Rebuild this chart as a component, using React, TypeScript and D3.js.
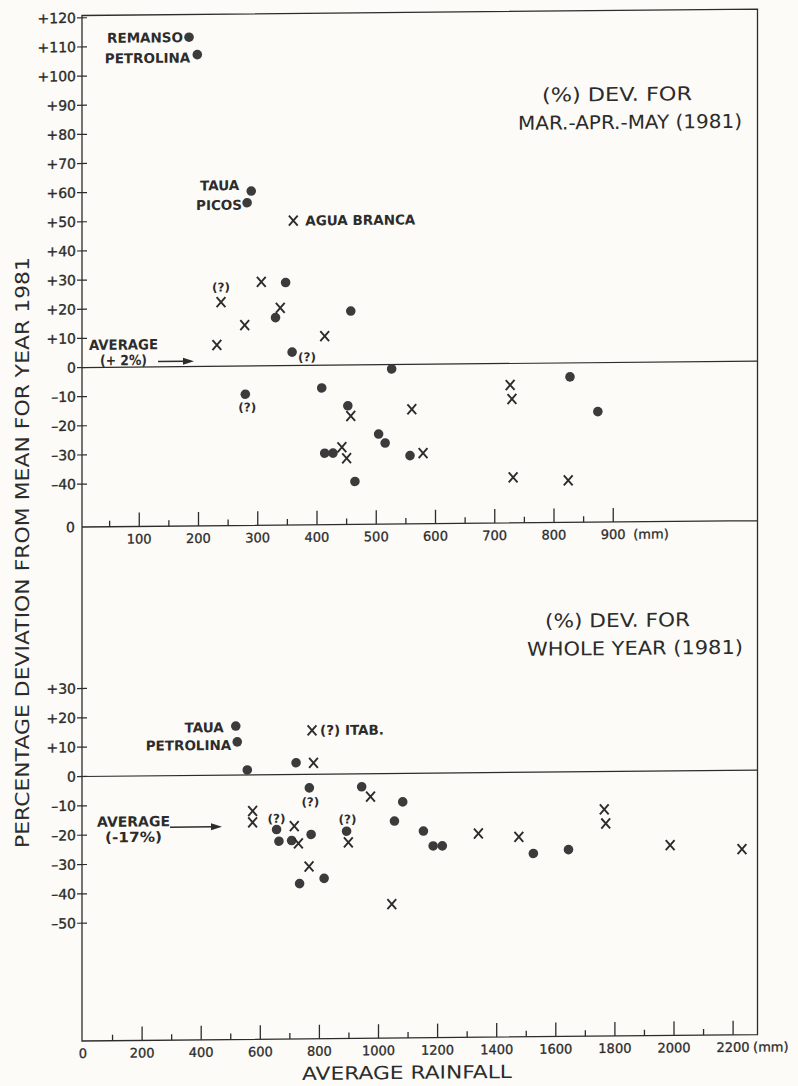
import React, { useEffect, useRef } from 'react'
import * as d3 from 'd3'

// top panel: (%) deviation for Mar-Apr-May 1981, against average rainfall (mm)
const mamDotRain = [184, 198, 289, 282, 347, 330, 358, 457, 526, 279, 408, 452, 504, 515, 413, 427, 557, 464, 827, 874]
const mamDotDev = [113, 107, 60, 56, 28.5, 16.5, 4.6, 18.5, -1.5, -9.7, -7.8, -14, -23.8, -26.9, -30.2, -30.2, -31.3, -40, -4.8, -16.8]
const mamCrossRain = [360, 238, 306, 338, 278, 231, 413, 457, 560, 442, 450, 579, 726, 729, 731, 824]
const mamCrossDev = [49.7, 22, 28.8, 19.8, 14, 7.3, 10, -17.5, -15.4, -28.2, -32, -30.5, -7.4, -12.2, -39.1, -40.3]
const mamAverage = 2

// bottom panel: (%) deviation for the whole year 1981
const yearDotRain = [517, 522, 556, 721, 766, 943, 1082, 655, 772, 663, 706, 892, 1054, 1152, 1185, 1216, 733, 816, 1524, 1643]
const yearDotDev = [16.7, 11.3, 1.7, 4, -4.6, -4.4, -9.7, -18.7, -20.5, -22.7, -22.5, -19.5, -16.2, -19.7, -24.8, -24.8, -37.2, -35.5, -27.7, -26.5]
const yearCrossRain = [775, 780, 973, 574, 574, 715, 729, 898, 765, 1045, 1338, 1475, 1764, 1769, 1987, 2230]
const yearCrossDev = [15, 3.9, -7.8, -12.3, -16.2, -17.6, -23.5, -23.3, -31.4, -44.5, -20.7, -22, -12.9, -17.7, -25.3, -26.9]
const yearAverage = -17

// axis ticks
const mamYTicks = [120, 110, 100, 90, 80, 70, 60, 50, 40, 30, 20, 10, 0, -10, -20, -30, -40]
const yearYTicks = [30, 20, 10, 0, -10, -20, -30, -40, -50]
const mamXLabels = [100, 200, 300, 400, 500, 600, 700, 800, 900]
const yearXLabels = [0, 200, 400, 600, 800, 1000, 1200, 1400, 1600, 1800, 2000, 2200]

// station names and doubtful values, pointing at a mark: [text, kind, index]
const mamNotes: [string, string, number][] = [
  ['REMANSO', 'dot', 0], ['PETROLINA', 'dot', 1], ['TAUA', 'dot', 2], ['PICOS', 'dot', 3],
  ['AGUA BRANCA', 'cross', 0], ['(?)', 'cross', 1], ['(?)', 'dot', 6], ['(?)', 'dot', 9],
]
const yearNotes: [string, string, number][] = [
  ['TAUA', 'dot', 0], ['PETROLINA', 'dot', 1], ['(?) ITAB.', 'cross', 0],
  ['(?)', 'dot', 7], ['(?)', 'dot', 4], ['(?)', 'dot', 11],
]
// where each note sits relative to its mark
const mamNoteStyle = [
  { dx: -6, dy: 0, anchor: 'end' }, { dx: -7, dy: 3, anchor: 'end' }, { dx: -12, dy: -6, anchor: 'end' },
  { dx: -5, dy: 2, anchor: 'end' }, { dx: 12, dy: 0, anchor: 'start' }, { dx: 0, dy: -15, anchor: 'middle' },
  { dx: 6, dy: 5, anchor: 'start' }, { dx: 2, dy: 13, anchor: 'middle' },
]
const yearNoteStyle = [
  { dx: -12, dy: 1, anchor: 'end' }, { dx: -6, dy: 3, anchor: 'end' }, { dx: 8, dy: 0, anchor: 'start' },
  { dx: 0, dy: -11, anchor: 'middle' }, { dx: 1, dy: 14, anchor: 'middle' }, { dx: 1, dy: -12, anchor: 'middle' },
]

const W = 798, H = 1086
const LEFT = 82, RIGHT = 757.5, TOP = 15.5, MID = 527, BOTTOM = 1041
const TILT = 0.0095
const ink = '#2c2c2c'
const paper = '#fcfbf7'
const font = '"DejaVu Sans", "Liberation Sans", sans-serif'

const fmt = (v: number) => (v > 0 ? `+${v}` : v < 0 ? `–${-v}` : '0')

function drawPanel(root: any, p: any) {
  const g = root.append('g')

  // zero line
  g.append('line')
    .attr('x1', LEFT).attr('x2', RIGHT)
    .attr('y1', p.y(0)).attr('y2', p.y(0))
    .attr('stroke', ink).attr('stroke-width', 1.2)

  // y ticks
  const yt = g.append('g')
  yt.selectAll('line').data(p.yTicks).join('line')
    .attr('x1', LEFT - 5).attr('x2', LEFT + 5)
    .attr('y1', (d: number) => p.y(d)).attr('y2', (d: number) => p.y(d))
    .attr('stroke', ink).attr('stroke-width', 1.2)
  yt.selectAll('text').data(p.yTicks).join('text')
    .attr('x', LEFT - 6).attr('y', (d: number) => p.y(d)).attr('dy', '0.36em')
    .attr('text-anchor', 'end').attr('font-size', 14)
    .attr('stroke', ink).attr('stroke-width', 0.35)
    .text((d: number) => fmt(d))

  // x ticks, pointing up into the panel
  const xt = g.append('g')
  xt.selectAll('line').data(d3.range(p.step, p.last + 1, p.step)).join('line')
    .attr('x1', (d: number) => p.x(d)).attr('x2', (d: number) => p.x(d))
    .attr('y1', p.axisY)
    .attr('y2', (d: number) => p.axisY - (d % (p.step * 2) === 0 ? 14 : 6))
    .attr('stroke', ink).attr('stroke-width', 1.3)
  xt.selectAll('text').data(p.xLabels).join('text')
    .attr('x', (d: number) => p.x(d)).attr('y', p.axisY + 17)
    .attr('text-anchor', 'middle').attr('font-size', 13)
    .attr('stroke', ink).attr('stroke-width', 0.3)
    .text((d: number) => d)
  g.append('text')
    .attr('x', p.x(p.last) + 20).attr('y', p.axisY + 17)
    .attr('font-size', 13).attr('stroke', ink).attr('stroke-width', 0.3).text('(mm)')

  // marks
  g.append('g').selectAll('circle').data(p.dotRain).join('circle')
    .attr('cx', (d: number) => p.x(d))
    .attr('cy', (_: number, i: number) => p.y(p.dotDev[i]))
    .attr('r', 4.8).attr('fill', '#3b3b3b')
  g.append('g').selectAll('path').data(p.crossRain).join('path')
    .attr('d', (d: number, i: number) => {
      const cx = p.x(d), cy = p.y(p.crossDev[i])
      return `M${cx - 4.4},${cy - 5}L${cx + 4.4},${cy + 5}M${cx + 4.4},${cy - 5}L${cx - 4.4},${cy + 5}`
    })
    .attr('stroke', ink).attr('stroke-width', 1.9).attr('fill', 'none')

  // notes
  g.append('g').selectAll('text').data(p.notes).join('text')
    .attr('x', (d: any, i: number) => {
      const rain = d[1] === 'dot' ? p.dotRain : p.crossRain
      return p.x(rain[d[2]]) + p.noteStyle[i].dx
    })
    .attr('y', (d: any, i: number) => {
      const dev = d[1] === 'dot' ? p.dotDev : p.crossDev
      return p.y(dev[d[2]]) + p.noteStyle[i].dy
    })
    .attr('dy', '0.36em')
    .attr('text-anchor', (_: any, i: number) => p.noteStyle[i].anchor)
    .attr('font-size', (d: any) => (d[0] === '(?)' ? 12 : 13.5))
    .attr('font-weight', 'bold')
    .text((d: any) => d[0])
}

function drawAverage(root: any, lines: string[], x: number, y0: number, arrowY: number, x1: number, x2: number, widths: number[]) {
  const g = root.append('g').attr('font-size', 14).attr('font-weight', 'bold')
  lines.forEach((t, i) => {
    g.append('text').attr('x', x + (i === 0 ? 0 : (widths[0] - widths[1]) / 2)).attr('y', y0 + i * 15.5)
      .attr('textLength', widths[i]).attr('lengthAdjust', 'spacingAndGlyphs').text(t)
  })
  g.append('line').attr('x1', x1).attr('x2', x2 - 9).attr('y1', arrowY).attr('y2', arrowY)
    .attr('stroke', ink).attr('stroke-width', 1.5)
  g.append('path').attr('d', `M${x2},${arrowY}L${x2 - 11},${arrowY - 3.5}L${x2 - 11},${arrowY + 3.5}Z`).attr('fill', ink)
}

export default function App() {
  const ref = useRef<SVGSVGElement>(null)

  useEffect(() => {
    const svg = d3.select(ref.current)
    svg.selectAll('*').remove()
    svg.append('rect').attr('width', W).attr('height', H).attr('fill', paper)

    // the printed page is scanned a little askew: lines rise to the right
    const root = svg.append('g')
      .attr('transform', `matrix(1,${-TILT},0,1,0,${TILT * LEFT})`)
      .attr('font-family', font).attr('fill', ink)

    const xTop = d3.scaleLinear().domain([0, 900]).range([80, 613.25])
    const yTop = d3.scaleLinear().domain([-40, 120]).range([484.1, 17.8])
    const xBot = d3.scaleLinear().domain([0, 2200]).range([83, 733.1])
    const yBot = d3.scaleLinear().domain([-50, 30]).range([923.2, 688.5])

    // frame
    root.append('path')
      .attr('d', `M${LEFT},${TOP}H${RIGHT}V${BOTTOM}H${LEFT}ZM${LEFT},${MID}H${RIGHT}`)
      .attr('fill', 'none').attr('stroke', ink).attr('stroke-width', 1.3)

    drawPanel(root, {
      x: xTop, y: yTop, axisY: MID, step: 50, last: 900,
      yTicks: mamYTicks, xLabels: mamXLabels,
      dotRain: mamDotRain, dotDev: mamDotDev, crossRain: mamCrossRain, crossDev: mamCrossDev,
      notes: mamNotes, noteStyle: mamNoteStyle,
    })
    // origin of the upper rainfall axis
    root.append('text').attr('x', LEFT - 7).attr('y', MID).attr('dy', '0.36em')
      .attr('text-anchor', 'end').attr('font-size', 14)
      .attr('stroke', ink).attr('stroke-width', 0.35).text('0')

    drawPanel(root, {
      x: xBot, y: yBot, axisY: BOTTOM, step: 100, last: 2200,
      yTicks: yearYTicks, xLabels: yearXLabels,
      dotRain: yearDotRain, dotDev: yearDotDev, crossRain: yearCrossRain, crossDev: yearCrossDev,
      notes: yearNotes, noteStyle: yearNoteStyle,
    })

    drawAverage(root, ['AVERAGE', `(${fmt(mamAverage).replace('+', '+ ')}%)`], 89, 350, yTop(mamAverage) + 0.5, 158, 194, [69, 47])
    drawAverage(root, ['AVERAGE', `(${fmt(yearAverage).replace('–', '-')}%)`], 97, 827, 828, 170, 222, [73, 57])

    // panel titles
    const titles = root.append('g').attr('font-size', 19)
    const titleRows: [string, number, number, number][] = [
      ['(%) DEV. FOR', 542, 106, 150],
      ['MAR.-APR.-MAY (1981)', 518, 134, 224],
      ['(%) DEV. FOR', 545, 632, 145],
      ['WHOLE YEAR (1981)', 527, 660, 216],
    ]
    titleRows.forEach(([t, x, y, w]) => {
      titles.append('text').attr('x', x).attr('y', y)
        .attr('textLength', w).attr('lengthAdjust', 'spacingAndGlyphs').text(t)
    })

    // axis titles
    root.append('text')
      .attr('transform', 'translate(22,552) rotate(-90)')
      .attr('text-anchor', 'middle').attr('dy', '0.36em').attr('font-size', 19)
      .attr('textLength', 591).attr('lengthAdjust', 'spacingAndGlyphs')
      .text('PERCENTAGE DEVIATION FROM MEAN FOR YEAR 1981')
    root.append('text')
      .attr('x', 302).attr('y', 1082).attr('font-size', 18)
      .attr('textLength', 210).attr('lengthAdjust', 'spacingAndGlyphs')
      .text('AVERAGE RAINFALL')
  }, [])

  return <svg ref={ref} width={W} height={H} style={{ position: 'absolute', left: 0, top: 0 }} />
}
